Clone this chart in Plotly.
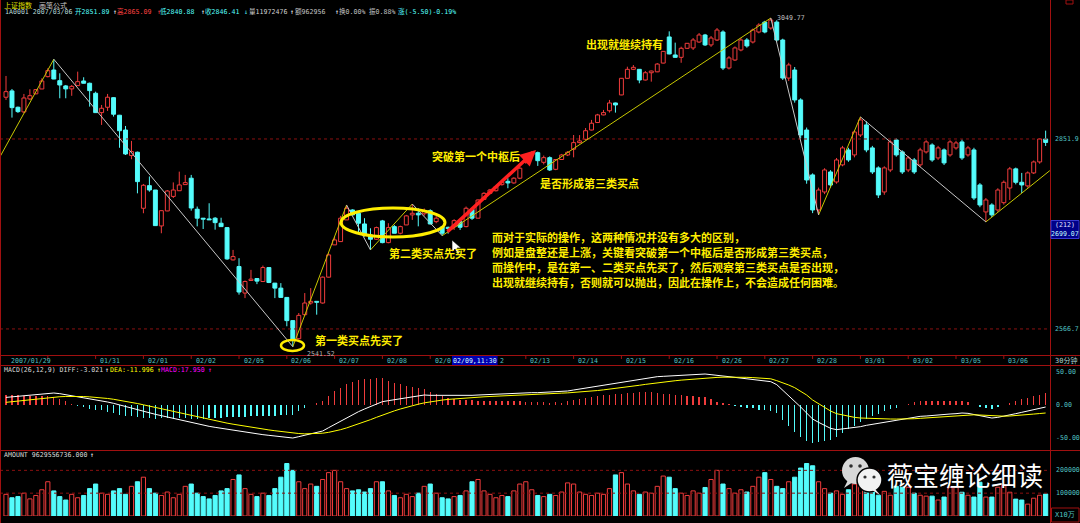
import math
import plotly.graph_objects as go

# ---------------- data (30-minute bars, 上证指数 2007/01/29 - 2007/03/06) ----------------
open_ = [2918.7, 2928.9, 2902.5, 2895.0, 2915.9, 2924.2, 2932.1, 2952.2, 2963.1, 2945.6,
         2937.0, 2932.2, 2937.5, 2945.1, 2941.4, 2925.1, 2893.9, 2902.5, 2918.0, 2889.7,
         2866.1, 2825.8, 2831.0, 2744.4, 2779.0, 2772.3, 2717.6, 2740.3, 2762.5, 2771.2,
         2780.6, 2790.5, 2742.9, 2729.3, 2728.2, 2729.3, 2721.7, 2715.1, 2666.9, 2657.1,
         2618.3, 2636.6, 2639.5, 2635.1, 2655.6, 2632.8, 2625.5, 2612.0, 2578.6, 2552.8,
         2587.1, 2603.9, 2606.3, 2603.9, 2641.5, 2689.2, 2694.1, 2726.7, 2741.8, 2736.8,
         2720.6, 2704.1, 2697.6, 2725.2, 2692.6, 2716.6, 2706.6, 2719.1, 2734.3, 2736.8,
         2736.0, 2740.7, 2724.1, 2716.0, 2715.5, 2716.6, 2724.1, 2716.6, 2742.8, 2729.3,
         2758.0, 2767.2, 2771.2, 2780.6, 2785.7, 2783.2, 2790.5, 2815.2, 2826.7, 2830.3,
         2815.2, 2822.5, 2804.3, 2819.6, 2826.7, 2835.7, 2846.1, 2851.4, 2866.1, 2878.0,
         2890.2, 2896.9, 2909.4, 2922.4, 2949.5, 2964.2, 2964.2, 2946.7, 2958.6, 2960.1,
         2974.5, 3017.9, 2987.9, 2984.0, 2999.0, 2999.6, 3009.5, 3021.2, 3004.6, 3012.8,
         3026.2, 2966.4, 2979.6, 2996.2, 3012.8, 3009.5, 3026.2, 3042.9, 3032.9, 3042.9,
         3012.8, 2949.9, 2963.1, 2914.3, 2866.1, 2795.6, 2741.8, 2769.3, 2800.2, 2784.7,
         2811.2, 2834.6, 2826.8, 2858.2, 2874.2, 2837.8, 2806.5, 2769.3, 2803.3, 2850.3,
         2831.5, 2803.3, 2818.9, 2811.2, 2831.5, 2842.4, 2822.1, 2834.6, 2826.8, 2837.8,
         2847.2, 2826.8, 2834.6, 2780.1, 2738.8, 2749.4, 2741.8, 2752.9, 2775.4, 2805.0,
         2784.2, 2778.6, 2798.7, 2815.8, 2851.89]
high = [2953.3, 2932.1, 2903.6, 2924.0, 2931.6, 2932.0, 2949.5, 2966.0, 2980.8, 2957.7,
        2938.6, 2938.6, 2960.4, 2951.2, 2942.4, 2927.7, 2906.2, 2924.0, 2918.7, 2890.2,
        2872.5, 2848.8, 2832.0, 2781.6, 2793.2, 2772.5, 2741.0, 2772.3, 2784.0, 2800.7,
        2795.6, 2795.6, 2747.0, 2729.5, 2752.0, 2731.0, 2730.0, 2715.5, 2681.7, 2669.4,
        2636.6, 2652.2, 2640.0, 2658.5, 2656.0, 2633.0, 2632.8, 2612.3, 2579.0, 2589.5,
        2618.3, 2625.5, 2606.5, 2642.5, 2676.8, 2701.6, 2732.8, 2749.4, 2742.8, 2739.3,
        2729.3, 2714.1, 2716.6, 2726.7, 2721.7, 2719.0, 2718.0, 2734.3, 2750.9, 2744.4,
        2744.0, 2742.8, 2732.8, 2717.0, 2716.6, 2727.8, 2726.7, 2747.0, 2744.4, 2758.0,
        2769.0, 2774.0, 2779.0, 2786.0, 2790.5, 2792.0, 2808.0, 2821.0, 2832.5, 2832.0,
        2825.8, 2824.5, 2820.0, 2828.3, 2832.7, 2858.2, 2858.0, 2869.3, 2882.2, 2891.9,
        2898.2, 2914.3, 2910.0, 2950.0, 2968.5, 2971.3, 2964.5, 2961.4, 2962.0, 2974.5,
        2994.4, 3027.3, 3008.4, 3001.6, 3007.8, 3016.1, 3024.5, 3023.0, 3019.5, 3032.9,
        3029.0, 2986.0, 3002.0, 3016.0, 3016.0, 3032.0, 3041.0, 3045.0, 3049.77, 3046.0,
        3015.0, 2975.0, 2968.0, 2917.0, 2870.0, 2798.0, 2776.0, 2806.0, 2803.0, 2822.0,
        2841.0, 2838.0, 2866.0, 2887.0, 2880.0, 2841.0, 2809.0, 2809.0, 2850.0, 2853.0,
        2834.0, 2825.0, 2822.0, 2838.0, 2850.0, 2845.0, 2841.0, 2837.0, 2850.0, 2849.0,
        2851.0, 2841.0, 2838.0, 2783.0, 2760.0, 2752.0, 2775.0, 2787.0, 2808.0, 2807.0,
        2798.7, 2801.0, 2818.0, 2853.0, 2865.09]
low = [2914.3, 2885.9, 2893.4, 2893.0, 2914.3, 2923.5, 2932.0, 2951.0, 2948.0, 2917.0,
       2917.0, 2921.0, 2937.0, 2941.0, 2903.5, 2893.5, 2874.2, 2896.6, 2887.5, 2838.0,
       2826.7, 2820.0, 2767.2, 2736.8, 2769.7, 2717.5, 2706.6, 2740.0, 2760.0, 2771.0,
       2780.0, 2740.7, 2717.0, 2713.0, 2726.5, 2712.0, 2716.4, 2667.0, 2666.0, 2616.0,
       2611.0, 2636.5, 2631.3, 2635.0, 2632.8, 2611.0, 2611.8, 2570.5, 2541.52, 2551.8,
       2585.7, 2601.5, 2587.1, 2603.0, 2641.0, 2689.0, 2694.0, 2726.5, 2734.0, 2706.6,
       2701.6, 2681.7, 2696.6, 2691.6, 2691.6, 2706.5, 2705.0, 2719.0, 2726.7, 2717.0,
       2733.0, 2720.0, 2721.7, 2703.0, 2706.0, 2711.6, 2711.6, 2715.6, 2726.7, 2729.0,
       2757.0, 2766.0, 2770.0, 2779.0, 2775.0, 2782.0, 2789.0, 2813.0, 2825.0, 2809.6,
       2812.0, 2801.7, 2803.0, 2818.9, 2825.0, 2823.0, 2845.0, 2850.3, 2865.5, 2877.5,
       2889.5, 2894.0, 2893.9, 2922.0, 2949.0, 2963.0, 2941.4, 2946.0, 2944.0, 2959.6,
       2974.0, 2989.0, 2983.5, 2975.0, 2998.0, 2996.2, 3008.0, 3002.9, 3001.3, 3011.2,
       2963.0, 2964.0, 2978.0, 2994.0, 3000.0, 3007.0, 3024.0, 3024.0, 3030.0, 3010.0,
       2946.7, 2945.0, 2910.0, 2853.0, 2782.0, 2737.0, 2734.3, 2766.0, 2776.0, 2782.0,
       2809.0, 2816.0, 2823.0, 2855.0, 2831.0, 2797.0, 2760.0, 2765.0, 2800.0, 2824.0,
       2797.0, 2800.0, 2797.0, 2808.0, 2829.0, 2816.0, 2819.0, 2811.0, 2824.0, 2835.0,
       2819.0, 2824.0, 2757.0, 2746.0, 2723.7, 2731.0, 2739.0, 2750.0, 2757.0, 2781.0,
       2767.8, 2776.0, 2797.0, 2813.0, 2840.88]
close = [2927.7, 2901.9, 2895.5, 2917.5, 2921.2, 2931.0, 2945.1, 2962.0, 2948.3, 2938.6,
         2932.2, 2936.3, 2944.0, 2941.4, 2929.4, 2893.9, 2900.9, 2918.7, 2891.3, 2865.0,
         2828.3, 2832.0, 2785.2, 2779.6, 2772.3, 2718.1, 2740.7, 2770.8, 2772.3, 2780.1,
         2783.7, 2744.8, 2729.3, 2727.8, 2726.7, 2722.6, 2716.6, 2668.4, 2671.8, 2619.8,
         2635.1, 2638.6, 2635.7, 2655.6, 2633.7, 2625.5, 2612.0, 2578.6, 2550.8, 2586.1,
         2603.9, 2606.3, 2604.9, 2641.5, 2674.3, 2696.6, 2729.3, 2744.4, 2734.3, 2721.7,
         2704.1, 2697.6, 2715.1, 2692.6, 2715.1, 2706.6, 2716.6, 2732.8, 2736.8, 2734.3,
         2740.0, 2720.6, 2729.3, 2706.6, 2713.6, 2725.6, 2715.6, 2744.4, 2729.3, 2757.0,
         2767.2, 2772.3, 2777.4, 2784.2, 2783.2, 2790.5, 2806.0, 2818.9, 2830.3, 2817.8,
         2822.5, 2803.3, 2819.6, 2826.7, 2831.0, 2846.1, 2848.8, 2865.0, 2876.9, 2890.2,
         2893.9, 2909.4, 2906.2, 2949.5, 2964.2, 2967.5, 2946.7, 2958.6, 2961.4, 2972.9,
         2993.9, 2989.6, 2984.0, 2999.0, 3007.3, 3012.8, 3021.2, 3004.6, 3016.1, 3029.5,
         2966.4, 2983.0, 2999.6, 3012.8, 3002.9, 3029.5, 3037.9, 3026.2, 3046.3, 3012.8,
         2949.9, 2971.4, 2914.3, 2858.2, 2787.8, 2741.8, 2772.3, 2803.3, 2780.1, 2818.9,
         2837.8, 2818.9, 2863.0, 2882.2, 2834.6, 2800.2, 2764.7, 2806.5, 2847.2, 2826.8,
         2800.2, 2822.1, 2800.2, 2834.6, 2847.2, 2818.9, 2837.8, 2814.3, 2847.2, 2845.6,
         2822.1, 2837.8, 2760.1, 2749.4, 2757.0, 2734.3, 2772.3, 2784.2, 2805.0, 2784.2,
         2780.1, 2798.7, 2815.8, 2851.9, 2846.41]

# AMOUNT (unit: x10万)
amount = [95000, 80000, 85000, 100000, 75000, 90000, 115000,
          150000, 110000, 85000, 70000, 95000, 80000, 90000, 120000,
          140000, 100000, 95000, 110000, 120000, 95000, 130000, 150000,
          170000, 120000, 100000, 90000, 105000, 80000, 95000, 130000,
          140000, 100000, 85000, 75000, 90000, 110000, 120000, 160000,
          180000, 120000, 95000, 85000, 100000, 90000, 120000, 170000,
          230000, 200000, 150000, 120000, 140000, 130000, 160000, 190000,
          200000, 150000, 120000, 110000, 115000, 105000, 120000, 150000,
          150000, 110000, 90000, 80000, 95000, 85000, 100000, 130000,
          140000, 100000, 80000, 75000, 85000, 90000, 110000, 150000,
          160000, 110000, 95000, 80000, 90000, 85000, 110000, 140000,
          150000, 115000, 90000, 85000, 95000, 90000, 105000, 145000,
          140000, 105000, 95000, 90000, 100000, 95000, 120000, 180000,
          190000, 140000, 110000, 95000, 105000, 100000, 130000, 175000,
          170000, 120000, 100000, 90000, 110000, 100000, 125000, 160000,
          200000, 140000, 120000, 100000, 115000, 105000, 130000, 170000,
          190000, 160000, 130000, 120000, 150000, 170000, 210000, 230000,
          220000, 150000, 120000, 100000, 110000, 95000, 115000, 140000,
          150000, 120000, 105000, 91000, 108000, 91000, 130000, 126000,
          126000, 100000, 91000, 87000, 87000, 70000, 83000, 126000,
          126000, 104000, 91000, 83000, 148000, 83000, 83000, 126000,
          135000, 104000, 74000, 70000, 52000, 78000, 91000, 96296]

# MACD(26,12,9)
diff = [11.4, 12.3, 13.2, 14.1, 15.0, 15.9, 16.8, 17.7, 18.0, 17.0,
        15.5, 14.0, 12.5, 11.0, 9.5, 8.0, 7.0, 4.5, 2.5, 0.0,
        -2.5, -4.5, -7.0, -9.5, -11.5, -14.0, -16.0, -18.0, -20.5, -22.0,
        -24.0, -26.5, -29.0, -30.5, -32.0, -33.5, -35.0, -36.5, -38.0, -39.5,
        -41.0, -42.0, -43.0, -44.5, -45.5, -46.5, -47.5, -48.5, -49.5, -47.5,
        -45.5, -43.5, -41.5, -39.0, -34.0, -29.0, -24.0, -19.0, -14.0, -10.0,
        -6.0, -2.5, 1.5, 5.0, 6.5, 8.0, 9.5, 11.0, 12.5, 14.0,
        15.0, 14.5, 14.5, 14.0, 14.0, 13.5, 13.5, 14.0, 14.5, 15.0,
        15.5, 15.5, 16.0, 16.5, 17.0, 17.5, 18.0, 18.0, 18.5, 18.5,
        19.0, 19.0, 19.5, 19.5, 21.0, 22.5, 24.0, 25.5, 27.0, 28.5,
        30.0, 31.5, 33.0, 34.5, 36.0, 37.5, 39.0, 40.5, 42.0, 42.5,
        43.0, 43.5, 44.0, 44.5, 45.0, 45.5, 46.0, 46.5, 45.5, 44.0,
        43.5, 42.5, 41.5, 40.5, 39.5, 38.5, 37.0, 36.0, 35.0, 30.5,
        22.5, 14.0, 6.0, -3.0, -12.0, -21.0, -26.0, -30.0, -35.0, -37.0,
        -36.0, -35.0, -34.0, -32.5, -30.5, -29.0, -27.0, -25.5, -24.0, -23.0,
        -21.5, -20.0, -18.5, -17.0, -16.5, -15.5, -15.0, -14.0, -13.5, -13.0,
        -12.0, -12.5, -14.5, -16.5, -18.0, -19.5, -18.5, -17.0, -15.0, -13.0,
        -11.0, -9.0, -7.0, -5.0, -3.021]
dea = [4.0, 5.0, 6.0, 7.0, 8.0, 9.0, 10.0, 11.0, 11.8, 12.4,
       12.8, 13.0, 13.0, 12.7, 12.2, 11.6, 10.8, 9.8, 8.6, 7.2,
       5.7, 4.0, 2.2, 0.3, -1.7, -3.8, -5.9, -8.0, -10.1, -12.2,
       -14.2, -16.2, -18.2, -20.1, -22.0, -23.8, -25.5, -27.2, -28.8, -30.4,
       -31.9, -33.4, -34.8, -36.1, -37.4, -38.6, -39.8, -40.9, -42.0, -42.8,
       -43.3, -43.3, -43.0, -42.3, -41.0, -39.2, -37.0, -34.4, -31.5, -28.5,
       -25.3, -22.0, -18.5, -15.0, -11.8, -8.8, -6.0, -3.4, -1.0, 1.2,
       3.2, 4.8, 6.2, 7.4, 8.4, 9.2, 9.9, 10.5, 11.1, 11.7,
       12.3, 12.8, 13.3, 13.8, 14.3, 14.8, 15.3, 15.7, 16.1, 16.5,
       16.9, 17.2, 17.5, 17.8, 18.2, 18.7, 19.3, 20.0, 20.8, 21.7,
       22.7, 23.7, 24.8, 25.9, 27.1, 28.3, 29.6, 30.9, 32.2, 33.4,
       34.5, 35.5, 36.4, 37.3, 38.1, 38.9, 39.7, 40.4, 41.0, 41.4,
       41.7, 41.9, 41.9, 41.8, 41.5, 41.1, 40.6, 40.0, 39.3, 36.5,
       33.5, 30.0, 26.0, 21.0, 15.0, 7.5, 2.0, -3.0, -9.0, -13.0,
       -15.0, -17.0, -18.5, -19.5, -20.0, -20.5, -20.5, -20.7, -21.0, -21.1,
       -21.2, -21.0, -20.6, -20.0, -19.4, -18.7, -18.0, -17.3, -16.6, -15.9,
       -15.2, -14.7, -14.7, -15.0, -15.6, -16.3, -16.7, -16.8, -16.5, -16.0,
       -15.3, -14.5, -13.6, -12.8, -11.996]
macd = [14.8, 14.6, 14.4, 14.2, 14.0, 13.8, 13.6, 13.4, 12.4, 9.2,
        5.4, 2.0, -1.0, -3.4, -5.4, -7.2, -7.6, -10.6, -12.2, -14.4,
        -16.4, -17.0, -18.4, -19.6, -19.6, -20.4, -20.2, -20.0, -20.8, -19.6,
        -19.6, -20.6, -21.6, -20.8, -20.0, -19.4, -19.0, -18.6, -18.4, -18.2,
        -18.2, -17.2, -16.4, -16.8, -16.2, -15.8, -15.4, -15.2, -15.0, -9.4,
        -4.4, -0.4, 3.0, 6.6, 14.0, 20.4, 26.0, 30.8, 35.0, 37.0,
        38.6, 39.0, 40.0, 40.0, 36.6, 33.6, 31.0, 28.8, 27.0, 25.6,
        23.6, 19.4, 16.6, 13.2, 11.2, 8.6, 7.2, 7.0, 6.8, 6.6,
        6.4, 5.4, 5.4, 5.4, 5.4, 5.4, 5.4, 4.6, 4.8, 4.0,
        4.2, 3.6, 4.0, 3.4, 5.6, 7.6, 9.4, 11.0, 12.4, 13.6,
        14.6, 15.6, 16.4, 17.2, 17.8, 18.4, 18.8, 19.2, 19.6, 18.2,
        17.0, 16.0, 15.2, 14.4, 13.8, 13.2, 12.6, 12.2, 9.0, 5.2,
        3.6, 1.2, -0.8, -2.6, -4.0, -5.2, -7.2, -8.0, -8.6, -12.0,
        -22.0, -32.0, -40.0, -48.0, -54.0, -57.0, -56.0, -54.0, -52.0, -48.0,
        -42.0, -36.0, -31.0, -26.0, -21.0, -17.0, -13.0, -9.6, -6.0, -3.8,
        -0.6, 2.0, 4.2, 6.0, 5.8, 6.4, 6.0, 6.6, 6.2, 5.8,
        6.4, 4.4, 0.4, -3.0, -4.8, -6.4, -3.6, -0.4, 3.0, 6.0,
        8.6, 11.0, 13.2, 15.6, 17.95]

# 笔 (pen) turning points: bar index and price
pen_idx = [-1, 8, 48, 57, 61, 68, 73, 128, 136, 143, 164, 174.7]
pen_price = [2824.0, 2980.8, 2541.52, 2749.4, 2681.7, 2750.9, 2703.0, 3049.77, 2734.3, 2887.0, 2723.7, 2802.3]

day_labels = ["2007/01/29", "01/30", "01/31", "02/01", "02/02", "02/05", "02/06", "02/07", "02/08",
              "02/09", "02/12", "02/13", "02/14", "02/15", "02/16", "02/26", "02/27", "02/28",
              "03/01", "03/02", "03/05", "03/06"]
day_start = [0, 7, 15, 23, 31, 39, 47, 55, 63, 71, 79, 87, 95, 103, 111, 119, 127, 135, 143, 151, 159, 167]
hidden_labels = ["01/30"]
# labels partly covered by the cursor time box: (visible part, number of hidden leading chars)
covered_labels = {"02/09": ("02/0", 0), "02/12": ("2", 4)}

price_ticks = [2851.9, 2566.7]
macd_ticks = [50.0, 0.0, -50.0]
amount_ticks = [200000, 100000]

# ---------------- style ----------------
W, H = 1080, 523
RED = "#f03c3c"
CYAN = "#54fcfc"
BORDER = "#a01010"
YEL = "#ffee00"
AXTXT = "#50c0c0"
MONO = "DejaVu Sans Mono, Noto Sans CJK SC, monospace"
CJK = "Noto Sans CJK SC"
CHAR_W = 3.97
N = len(close)
idx = list(range(N))

X_RANGE = [-1.004, 174.73]
P_RANGE = [math.log10(2534.1), math.log10(3080.4)]


def px(x):
    return x / W


def py(y):
    return 1 - y / H


fig = go.Figure()

up = [i for i in idx if close[i] >= open_[i]]
dn = [i for i in idx if close[i] < open_[i]]


def wick_xy(ids):
    xs, ys = [], []
    for i in ids:
        top = max(open_[i], close[i])
        bot = min(open_[i], close[i])
        xs += [i, i, None, i, i, None]
        ys += [high[i], top, None, bot, low[i], None]
    return xs, ys


# candle bodies
fig.add_trace(go.Bar(x=up, y=[close[i] - open_[i] for i in up], base=[open_[i] for i in up],
                     width=0.66, marker=dict(color="#000000", line=dict(color=RED, width=1)),
                     xaxis="x", yaxis="y", hoverinfo="skip"))
fig.add_trace(go.Bar(x=dn, y=[close[i] - open_[i] for i in dn], base=[open_[i] for i in dn],
                     width=0.66, marker=dict(color=CYAN, line=dict(color=CYAN, width=1)),
                     xaxis="x", yaxis="y", hoverinfo="skip"))
wx, wy = wick_xy(up)
fig.add_trace(go.Scatter(x=wx, y=wy, mode="lines", line=dict(color=RED, width=1),
                         xaxis="x", yaxis="y", hoverinfo="skip"))
wx, wy = wick_xy(dn)
fig.add_trace(go.Scatter(x=wx, y=wy, mode="lines", line=dict(color=CYAN, width=1),
                         xaxis="x", yaxis="y", hoverinfo="skip"))

# price reference lines
for p in price_ticks:
    fig.add_trace(go.Scatter(x=X_RANGE, y=[p, p], mode="lines",
                             line=dict(color="#8a1010", width=1, dash="dot"),
                             xaxis="x", yaxis="y", hoverinfo="skip"))

# pens
ux, uy, dx_, dy_ = [], [], [], []
for k in range(len(pen_idx) - 1):
    sx = [pen_idx[k], pen_idx[k + 1], None]
    sy = [pen_price[k], pen_price[k + 1], None]
    if pen_price[k + 1] > pen_price[k]:
        ux += sx
        uy += sy
    else:
        dx_ += sx
        dy_ += sy
fig.add_trace(go.Scatter(x=ux, y=uy, mode="lines", line=dict(color="#c8c800", width=1),
                         xaxis="x", yaxis="y", hoverinfo="skip"))
fig.add_trace(go.Scatter(x=dx_, y=dy_, mode="lines", line=dict(color="#c8c8c8", width=1),
                         xaxis="x", yaxis="y", hoverinfo="skip"))

# MACD
fig.add_trace(go.Bar(x=idx, y=macd, width=0.22,
                     marker=dict(color=[RED if v >= 0 else CYAN for v in macd], line=dict(width=0)),
                     xaxis="x", yaxis="y2", hoverinfo="skip"))
fig.add_trace(go.Scatter(x=idx, y=diff, mode="lines", line=dict(color="#ffffff", width=1),
                         xaxis="x", yaxis="y2", hoverinfo="skip"))
fig.add_trace(go.Scatter(x=idx, y=dea, mode="lines", line=dict(color="#ffff00", width=1),
                         xaxis="x", yaxis="y2", hoverinfo="skip"))

# AMOUNT
for v in amount_ticks:
    fig.add_trace(go.Scatter(x=X_RANGE, y=[v, v], mode="lines",
                             line=dict(color="#8a1010", width=1, dash="dot"),
                             xaxis="x", yaxis="y3", hoverinfo="skip"))
fig.add_trace(go.Bar(x=up, y=[amount[i] for i in up], width=0.7,
                     marker=dict(color="#000000", line=dict(color=RED, width=1)),
                     xaxis="x", yaxis="y3", hoverinfo="skip"))
fig.add_trace(go.Bar(x=dn, y=[amount[i] for i in dn], width=0.7,
                     marker=dict(color=CYAN, line=dict(color=CYAN, width=1)),
                     xaxis="x", yaxis="y3", hoverinfo="skip"))

# ---------------- shapes ----------------
shapes = []


def hline(y, x0=0, x1=W, color=BORDER, width=1):
    shapes.append(dict(type="line", xref="paper", yref="paper", x0=px(x0), x1=px(x1),
                       y0=py(y), y1=py(y), line=dict(color=color, width=width), layer="above"))


def vline(x, y0=0, y1=H, color=BORDER, width=1):
    shapes.append(dict(type="line", xref="paper", yref="paper", x0=px(x), x1=px(x),
                       y0=py(y0), y1=py(y1), line=dict(color=color, width=width), layer="above"))


hline(355.5)
hline(365.5)
hline(450.5)
vline(1050.5)
vline(0.5)
# day ticks on the time band
for d in day_start[1:]:
    shapes.append(dict(type="line", xref="x", yref="paper", x0=d, x1=d, y0=py(355.5), y1=py(359),
                       line=dict(color=BORDER, width=1), layer="above"))
# boxes on the right
shapes.append(dict(type="rect", xref="paper", yref="paper", x0=px(1051.5), x1=px(1079), y0=py(522),
                   y1=py(508), line=dict(color=BORDER, width=1), layer="above"))
shapes.append(dict(type="rect", xref="paper", yref="paper", x0=px(1066), x1=px(1073), y0=py(4),
                   y1=py(0), line=dict(color=BORDER, width=1), layer="above"))
shapes.append(dict(type="rect", xref="paper", yref="paper", x0=px(1051), x1=px(1079), y0=py(238.5),
                   y1=py(220.5), line=dict(color="#3838d0", width=1), fillcolor="#000088", layer="above"))
# cursor time box on the time band
shapes.append(dict(type="rect", xref="paper", yref="paper", x0=px(452), x1=px(497.6), y0=py(365),
                   y1=py(356), line=dict(width=0), fillcolor="#0000b0", layer="above"))
# yellow ellipses
shapes.append(dict(type="circle", xref="paper", yref="paper", x0=px(281), x1=px(304), y0=py(351),
                   y1=py(340), line=dict(color=YEL, width=2.5), layer="above"))
shapes.append(dict(type="circle", xref="paper", yref="paper", x0=px(341), x1=px(445), y0=py(237),
                   y1=py(208), line=dict(color=YEL, width=3), layer="above"))
# mouse pointer
ptr = [(452, 240), (452, 252), (455, 249), (457.5, 254), (459.5, 253), (457, 248), (461, 248)]
path = "M " + " L ".join(f"{px(a):.5f},{py(b):.5f}" for a, b in ptr) + " Z"
shapes.append(dict(type="path", xref="paper", yref="paper", path=path, fillcolor="#ffffff",
                   line=dict(color="#000000", width=0.6), layer="above"))
# WeChat-like icon of the watermark
shapes.append(dict(type="circle", xref="paper", yref="paper", x0=px(842), x1=px(869), y0=py(484),
                   y1=py(457), fillcolor="#d8d8d8", line=dict(width=0), layer="above"))
shapes.append(dict(type="path", xref="paper", yref="paper",
                   path=f"M {px(848):.5f},{py(480):.5f} L {px(844):.5f},{py(488):.5f} L {px(853):.5f},{py(482):.5f} Z",
                   fillcolor="#d8d8d8", line=dict(width=0), layer="above"))
for ex in (851, 860):
    shapes.append(dict(type="circle", xref="paper", yref="paper", x0=px(ex - 1.8), x1=px(ex + 1.8),
                       y0=py(467.8), y1=py(464.2), fillcolor="#303030", line=dict(width=0), layer="above"))
shapes.append(dict(type="circle", xref="paper", yref="paper", x0=px(857), x1=px(882), y0=py(492),
                   y1=py(468), fillcolor="#f2f2f2", line=dict(color="#000000", width=1.5), layer="above"))
shapes.append(dict(type="path", xref="paper", yref="paper",
                   path=f"M {px(875):.5f},{py(489):.5f} L {px(880):.5f},{py(495):.5f} L {px(872):.5f},{py(490):.5f} Z",
                   fillcolor="#f2f2f2", line=dict(width=0), layer="above"))
for ex in (865, 874):
    shapes.append(dict(type="circle", xref="paper", yref="paper", x0=px(ex - 1.6), x1=px(ex + 1.6),
                       y0=py(478.6), y1=py(475.4), fillcolor="#303030", line=dict(width=0), layer="above"))

# ---------------- annotations ----------------
ann = []


def txt(x, y, s, color, size=6.6, family=MONO, xanchor="left", yanchor="middle", yref="paper", xref="paper", **kw):
    d = dict(x=x if xref != "paper" else px(x), y=y if yref != "paper" else py(y), xref=xref, yref=yref,
             text=s, showarrow=False, xanchor=xanchor, yanchor=yanchor,
             font=dict(color=color, size=size, family=family))
    d.update(kw)
    ann.append(d)


# header
txt(2, 4.5, "上证指数", "#e0e000", size=7, family=CJK)
txt(37, 4.5, "画笔公式", "#c8c8c8", size=7, family=CJK)
header = [(2.8, "1A0001 2007/03/06", "#b8d8d8"), (73, "开2851.89", CYAN), (110.5, "↑", "#ffffff"),
          (114.7, "高2865.09", "#ff4040"), (154.5, "↑", "#ff4040"), (158.4, "低2840.88", CYAN),
          (199, "↑", "#ffffff"), (203.2, "收2846.41", CYAN), (242, "↓", CYAN),
          (246.6, "量11972476", "#d0d0d0"), (288, "↑", "#ffffff"), (293.4, "额962956", "#c0c0c0"),
          (332.5, "↑", "#ffffff"), (336.8, "换0.00%", "#c0c0c0"), (366.7, "振0.88%", "#c0c0c0"),
          (396, "涨(-5.50)-0.19%", CYAN)]
for x, s, c in header:
    txt(x, 11.8, s, c)

# time band labels
for lab, d in zip(day_labels, day_start):
    if lab in hidden_labels:
        continue
    shown, skip = covered_labels.get(lab, (lab, 0))
    txt(d, 360.5, shown, AXTXT, xref="x", xshift=2.5 + skip * CHAR_W + (1.5 if skip else 0))
txt(474.8, 360.5, "02/09,11:30", "#d8ffff", xanchor="center")
txt(1053, 360.5, "30分钟", "#a8d0d0", size=7)

# right axis labels
for p in price_ticks:
    txt(1053, math.log10(p), f"{p:.1f}", AXTXT, yref="y")
for v in macd_ticks:
    txt(1054, v, f"{v:.2f}", AXTXT, yref="y2")
for v in amount_ticks:
    txt(1054, v, f"{v}", AXTXT, yref="y3")
txt(1053, 515, "X10万", AXTXT, size=7)
txt(1065, 225, "(212)", "#e0e0ff", xanchor="center")
txt(1065, 233.5, "2699.07", "#c0ffff", xanchor="center")

# extreme labels
txt(775, math.log10(3049.77), "3049.77", "#c0c0c0", yref="y")
txt(305, 353.5, "2541.52", "#b0b0b0")

# panel headers
macd_head = [(1.7, "MACD(26,12,9) DIFF:-3.021", "#d8d8d8"), (103, "↑", "#ffffff"),
             (107.8, "DEA:-11.996", "#ffff00"), (155, "↑", "#ffff00"),
             (159.4, "MACD:17.950", "#ff00ff"), (205.6, "↑", "#ff00ff")]
for x, s, c in macd_head:
    txt(x, 370, s, c)
txt(1.7, 455, "AMOUNT 9629556736.000", "#d8d8d8")
txt(88, 455, "↑", "#ffffff")

# commentary
txt(313, 340, "<b>第一类买点先买了</b>", YEL, size=11, family=CJK)
txt(387, 253, "<b>第二类买点先买了</b>", YEL, size=11, family=CJK)
txt(430, 156, "<b>突破第一个中枢后</b>", YEL, size=11, family=CJK)
txt(538, 183, "<b>是否形成第三类买点</b>", YEL, size=11, family=CJK)
txt(584, 44, "<b>出现就继续持有</b>", YEL, size=11, family=CJK)
para = ["而对于实际的操作，这两种情况并没有多大的区别，",
        "例如是盘整还是上涨，关键看突破第一个中枢后是否形成第三类买点，",
        "而操作中，是在第一、二类买点先买了，然后观察第三类买点是否出现，",
        "出现就继续持有，否则就可以抛出，因此在操作上，不会造成任何困难。"]
for line, y in zip(para, [236.5, 252.0, 267.0, 281.5]):
    txt(490, y, "<b>" + line + "</b>", YEL, size=11, family=CJK)

# red arrow
ann.append(dict(x=px(536), y=py(150), xref="paper", yref="paper", text="", showarrow=True,
                ax=-90, ay=83, arrowcolor="#ff2020", arrowwidth=3.5, arrowhead=2, arrowsize=0.9))

# watermark text
txt(885, 474.5, "薇宝缠论细读", "#ffffff", size=26, family=CJK)

fig.update_layout(
    width=W, height=H, margin=dict(l=0, r=0, t=0, b=0),
    paper_bgcolor="#000000", plot_bgcolor="#000000",
    showlegend=False, barmode="overlay", bargap=0,
    xaxis=dict(domain=[0, 1050 / W], range=X_RANGE, visible=False, fixedrange=True),
    yaxis=dict(domain=[py(352), 1], type="log", range=P_RANGE, visible=False, anchor="x"),
    yaxis2=dict(domain=[py(448), py(366)], range=[-64.5, 58.5], visible=False, anchor="x"),
    yaxis3=dict(domain=[py(516), py(450.5)], range=[0, 286957], visible=False, anchor="x"),
    shapes=shapes, annotations=ann,
)

fig.write_html("out.html", config={"displayModeBar": False, "staticPlot": True},
               post_script="document.body.style.margin='0';document.body.style.overflow='hidden';")
